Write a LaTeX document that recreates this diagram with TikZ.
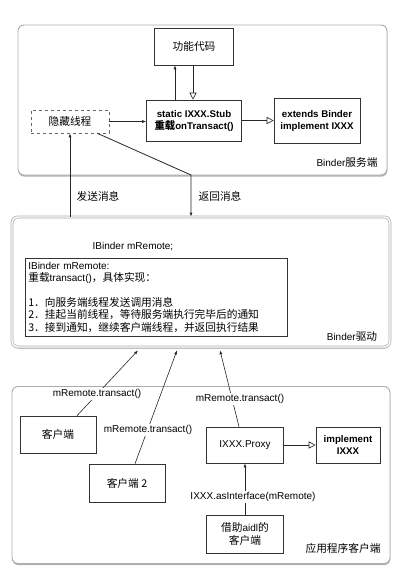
\documentclass[tikz,border=0pt]{standalone}
\usepackage{fontspec}
\setmainfont{Liberation Sans}
\newfontfamily\cjk[Scale=1.07]{Noto Sans CJK SC}
\newcommand\zh[1]{{\cjk #1}}
\usetikzlibrary{arrows.meta,shadows}
\begin{document}
\begin{tikzpicture}[x=1pt,y=-1pt,
  font=\fontsize{10}{12.4}\selectfont,
  panel/.style={draw=gray!65,line width=0.9pt,rounded corners=6pt,fill=white,
    drop shadow={shadow xshift=0.3pt,shadow yshift=-1.6pt,fill=gray!60,opacity=1}},
  box/.style={draw=black!80,line width=0.6pt,fill=white,align=center,inner sep=1pt},
  fa/.style={draw=black!85,line width=0.6pt,-{Latex[length=4pt,width=3pt]}},
  oa/.style={draw=black!85,line width=0.6pt,-{Triangle[open,length=7pt,width=7pt,fill=white]}},
  ln/.style={draw=black!85,line width=0.8pt}]
\useasboundingbox (0,0) rectangle (403,581);
% panels
\node[panel,minimum width=369pt,minimum height=150pt] (srv) at (202.5,100) {};
\node[panel,double=white,double distance=1.4pt,line width=0.7pt,minimum width=378pt,minimum height=130pt] (drv) at (201,282) {};
\node[panel,minimum width=378pt,minimum height=177pt] (cli) at (201,475) {};
% server side
\node[box,minimum width=79pt,minimum height=37pt] (func) at (194,46.5) {\zh{功能代码}};
\node[box,minimum width=95pt,minimum height=41pt,font=\fontsize{9.7}{12}\selectfont\bfseries] (stub) at (194,120.5) {static IXXX.Stub\\\zh{\bfseries 重载}onTransact()};
\node[box,minimum width=86pt,minimum height=45pt,font=\fontsize{9.7}{12}\selectfont\bfseries] (ext) at (317,120.5) {extends Binder\\implement IXXX};
\node[box,dashed,draw=black!60,minimum width=78pt,minimum height=23pt] (hid) at (70,121.5) {\zh{隐藏线程}};
\node (srvlbl) at (347,162) {Binder\zh{服务端}};
\draw[fa] ([xshift=-19pt]stub.north) -- ([xshift=-19pt]func.south);
\draw[oa] ([xshift=-1pt]func.south) -- ([xshift=-1pt]stub.north);
\draw[fa] (hid.east) -- (hid.east -| stub.west);
\draw[oa] (stub.east) -- (stub.east -| ext.west);
% messages
\coordinate (bend) at (191,175);
\draw[ln,-{Latex[length=4pt,width=3pt]}] (hid.south |- drv.north) -- (hid.south);
\draw[ln,-{Latex[length=4pt,width=3pt]}] ([xshift=-12pt]hid.south east) -- (bend) -- (bend |- drv.north);
\node (send) at (98,196) {\zh{发送消息}};
\node (ret) at (220,196) {\zh{返回消息}};
% driver
\node (mrem) at (133,247) {IBinder mRemote;};
\node[box,align=left,anchor=north west,minimum width=262pt,minimum height=78pt,text width=256pt,inner sep=2.5pt,font=\fontsize{10}{12.4}\selectfont] (impl) at (25,258)
 {IBinder mRemote:\\\zh{重载}transact()\zh{，具体实现：}\\[12.4pt]\zh{1．向服务端线程发送调用消息}\\\zh{2．挂起当前线程，等待服务端执行完毕后的通知}\\\zh{3．接到通知，继续客户端线程，并返回执行结果}};
\node (drvlbl) at (352,337) {Binder\zh{驱动}};
% client side
\node[box,minimum width=76pt,minimum height=37pt] (c1) at (58,434.5) {\zh{客户端}};
\node[box,minimum width=76pt,minimum height=38pt] (c2) at (127,483) {\zh{客户端 2}};
\node[box,minimum width=77pt,minimum height=36pt] (proxy) at (245,445) {IXXX.Proxy};
\node[box,minimum width=64pt,minimum height=36pt,font=\fontsize{9.7}{12}\selectfont\bfseries] (imp) at (348,445) {implement\\IXXX};
\node[box,minimum width=77pt,minimum height=38pt] (aidl) at (245,534) {\zh{借助}aidl\zh{的}\\\zh{客户端}};
\node (clilbl) at (343,548) {\zh{应用程序客户端}};
\coordinate (t1) at ([xshift=-63pt,yshift=-3pt]drv.south);
\coordinate (t2) at ([xshift=-24pt,yshift=-3pt]drv.south);
\coordinate (t3) at ([xshift=19pt,yshift=-3pt]drv.south);
\draw[fa] ([xshift=19pt]c1.north) -- (t1);
\draw[fa] ([xshift=8pt]c2.north) -- (t2);
\draw[fa] ([xshift=-6pt]proxy.north) -- (t3);
\node[fill=white,inner sep=1pt] (l1) at (97,394) {mRemote.transact()};
\node[fill=white,inner sep=1pt] (l2) at (148,430) {mRemote.transact()};
\node[fill=white,inner sep=1pt] (l3) at (240,399) {mRemote.transact()};
\draw[fa] (aidl.north) -- (proxy.south);
\node[fill=white,inner sep=1pt] (l4) at (253,497) {IXXX.asInterface(mRemote)};
\draw[oa] (proxy.east) -- (proxy.east -| imp.west);
\end{tikzpicture}
\end{document}
